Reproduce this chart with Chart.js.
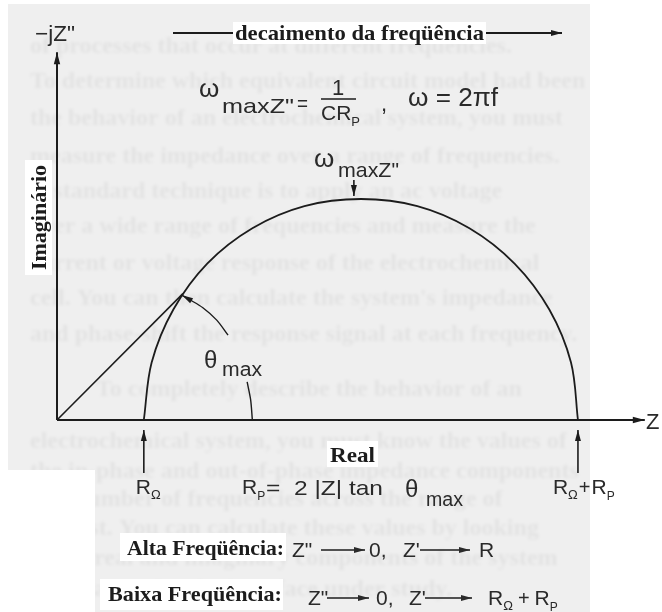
<!DOCTYPE html>
<html>
<head>
<meta charset="utf-8">
<script src="https://cdn.jsdelivr.net/npm/chart.js@4.4.1/dist/chart.umd.min.js"></script>
<style>
  html, body { margin: 0; padding: 0; background: #fff; }
  #wrap { width: 662px; height: 612px; }
</style>
</head>
<body>
<div id="wrap"><canvas id="nyquist" width="662" height="612"></canvas></div>
<script>
// circuit values
var R_OHM = 1.0;
var R_P = 5.0;

// semicircle, Z' and -Z''
var arcReal = [1.00, 1.09, 1.34, 1.73, 2.25, 2.85, 3.50, 4.15, 4.75, 5.27, 5.67, 5.92, 6.00];
var arcImag = [0.00, 0.65, 1.25, 1.77, 2.17, 2.42, 2.50, 2.42, 2.17, 1.77, 1.25, 0.65, 0.00];

// |Z| vector up to the theta_max point
var zVecReal = [0, 1.45];
var zVecImag = [0, 1.43];

// theta_max marker, split around its label
var thetaLowReal = [2.25, 2.23, 2.19];
var thetaLowImag = [0.00, 0.23, 0.43];
var thetaHighReal = [1.97, 1.84, 1.68, 1.53, 1.44];
var thetaHighImag = [0.96, 1.13, 1.27, 1.36, 1.41];

// axes
var axisRealEnd = 6.77;
var axisImagEnd = 4.16;

var INK = '#1c1c1c';
var SERIF = '"Liberation Serif", "Times New Roman", serif';
var SANS = '"Liberation Sans", Arial, sans-serif';

var ghostLines = [
    [45, 'of processes that occur at different frequencies.'],
    [80, 'To determine which equivalent circuit model had been'],
    [117, 'the behavior of an electrochemical system, you must'],
    [155, 'measure the impedance over a range of frequencies.'],
    [190, 'A standard technique is to apply an ac voltage'],
    [225, 'over a wide range of frequencies and measure the'],
    [262, 'current or voltage response of the electrochemical'],
    [297, 'cell. You can then calculate the system\'s impedance'],
    [333, 'and phase-shift the response signal at each frequency.'],
    [388, '           To completely describe the behavior of an'],
    [440, 'electrochemical system, you must know the values of'],
    [470, 'the in-phase and out-of-phase impedance components'],
    [498, 'at a number of frequencies across the range of'],
    [527, 'interest. You can calculate these values by looking'],
    [557, 'at the real and imaginary components of the system'],
    [588, 'impedance, for the interface under study.']
];

function pts(xs, ys) {
    return xs.map(function (x, i) { return { x: x, y: ys[i] }; });
}

function arrowHead(ctx, x0, y0, x1, y1, len, half) {
    var a = Math.atan2(y1 - y0, x1 - x0);
    var c = Math.cos(a), s = Math.sin(a);
    ctx.beginPath();
    ctx.moveTo(x1, y1);
    ctx.lineTo(x1 - len * c + half * s, y1 - len * s - half * c);
    ctx.lineTo(x1 - len * c - half * s, y1 - len * s + half * c);
    ctx.closePath();
    ctx.fill();
}

function arrow(ctx, x0, y0, x1, y1) {
    ctx.beginPath();
    ctx.moveTo(x0, y0);
    ctx.lineTo(x1, y1);
    ctx.stroke();
    arrowHead(ctx, x0, y0, x1, y1, 11, 3);
}

// draw text squeezed or stretched to a given width
function fitText(ctx, txt, x, y, w, font) {
    ctx.font = font;
    var m = ctx.measureText(txt).width;
    ctx.save();
    ctx.translate(x, y);
    ctx.scale(w / m, 1);
    ctx.fillText(txt, 0, 0);
    ctx.restore();
}

function put(ctx, txt, x, y, size) {
    ctx.font = size + 'px ' + SANS;
    ctx.fillText(txt, x, y);
    return x + ctx.measureText(txt).width;
}

var paperPlugin = {
    id: 'paper',
    beforeDraw: function (chart) {
        var ctx = chart.ctx;
        ctx.save();
        ctx.fillStyle = '#fff';
        ctx.fillRect(0, 0, chart.width, chart.height);
        // scanned page behind the figure
        ctx.beginPath();
        ctx.moveTo(8, 4);
        ctx.lineTo(590, 4);
        ctx.lineTo(590, 612);
        ctx.lineTo(95, 612);
        ctx.lineTo(95, 470);
        ctx.lineTo(8, 470);
        ctx.closePath();
        ctx.fillStyle = '#efefef';
        ctx.fill();
        ctx.clip();
        ctx.filter = 'blur(1.4px)';
        ctx.fillStyle = 'rgba(0,0,0,0.05)';
        ctx.font = 'bold 24px ' + SERIF;
        ghostLines.forEach(function (g) {
            ctx.fillText(g[1], 30, g[0] + 8);
        });
        ctx.restore();

        // white patches under the bold labels
        ctx.fillStyle = '#fff';
        ctx.fillRect(233, 22, 253, 22);
        ctx.fillRect(25, 160, 27, 115);
        ctx.fillRect(327, 441, 51, 26);
        ctx.fillRect(120, 533, 166, 28);
        ctx.fillRect(100, 579, 183, 31);
    },
    afterDatasetsDraw: function (chart) {
        var ctx = chart.ctx;
        var xs = chart.scales.x, ys = chart.scales.y;
        var x0 = xs.getPixelForValue(0), y0 = ys.getPixelForValue(0);
        ctx.save();
        ctx.fillStyle = INK;
        ctx.strokeStyle = INK;
        ctx.lineWidth = 1.6;

        // axis arrow tips
        arrowHead(ctx, x0, y0, x0, ys.getPixelForValue(axisImagEnd), 12, 3.2);
        arrowHead(ctx, x0, y0, xs.getPixelForValue(axisRealEnd), y0, 12, 3.2);

        // theta marker tip
        var n = thetaHighReal.length;
        arrowHead(ctx,
            xs.getPixelForValue(thetaHighReal[n - 2]), ys.getPixelForValue(thetaHighImag[n - 2]),
            xs.getPixelForValue(thetaHighReal[n - 1]), ys.getPixelForValue(thetaHighImag[n - 1]), 11, 3);

        // pointers to the two intercepts
        [R_OHM, R_OHM + R_P].forEach(function (v) {
            var px = xs.getPixelForValue(v);
            arrow(ctx, px, y0 + 53, px, y0 + 10);
        });

        // pointer to the top of the arc
        var topX = xs.getPixelForValue(R_OHM + R_P / 2) - 7;
        var topY = ys.getPixelForValue(R_P / 2);
        arrow(ctx, topX, topY - 19, topX, topY - 3);

        // frequency direction banner
        ctx.lineWidth = 1.8;
        ctx.beginPath();
        ctx.moveTo(173, 33);
        ctx.lineTo(233, 33);
        ctx.stroke();
        arrow(ctx, 486, 33, 562, 33);
        fitText(ctx, 'decaimento da freqüência', 235, 40, 249, 'bold 21px ' + SERIF);

        // axis names
        ctx.fillStyle = '#2a2a2a';
        fitText(ctx, '−jZ"', 35, 41, 40, '22px ' + SANS);
        put(ctx, 'Z', 646, 429, 22);
        ctx.fillStyle = INK;
        fitText(ctx, 'Real', 330, 462, 45, 'bold 21px ' + SERIF);
        ctx.save();
        ctx.translate(46, 270);
        ctx.rotate(-Math.PI / 2);
        fitText(ctx, 'Imaginário', 0, 0, 105, 'bold 21px ' + SERIF);
        ctx.restore();

        // formula line
        ctx.fillStyle = '#2a2a2a';
        put(ctx, 'ω', 199, 97, 26);
        fitText(ctx, 'maxZ"', 222, 113, 72, '21px ' + SANS);
        fitText(ctx, '=', 297, 111, 11, '22px ' + SANS);
        ctx.textAlign = 'center';
        put(ctx, '1', 338, 95, 22);
        ctx.textAlign = 'left';
        ctx.lineWidth = 1.5;
        ctx.beginPath();
        ctx.moveTo(321, 99);
        ctx.lineTo(356, 99);
        ctx.stroke();
        var e = put(ctx, 'CR', 321, 120, 21);
        put(ctx, 'P', e, 126, 13);
        put(ctx, ',', 381, 111, 22);
        fitText(ctx, 'ω = 2πf', 408, 106, 90, '26px ' + SANS);

        // label at the top of the arc
        put(ctx, 'ω', 314, 167, 26);
        fitText(ctx, 'maxZ"', 338, 177, 61, '21px ' + SANS);

        // theta label
        put(ctx, 'θ', 204, 368, 24);
        fitText(ctx, 'max', 222, 376, 40, '20px ' + SANS);

        // intercept labels
        var xa = xs.getPixelForValue(R_OHM);
        e = put(ctx, 'R', xa - 8, 494, 21);
        put(ctx, 'Ω', e, 499, 13);
        var xb = xs.getPixelForValue(R_OHM + R_P);
        e = put(ctx, 'R', xb - 25, 494, 21);
        e = put(ctx, 'Ω', e, 499, 13);
        e = put(ctx, '+', e + 1, 494, 20);
        e = put(ctx, 'R', e + 1, 494, 21);
        put(ctx, 'P', e, 500, 12);

        // R_P relation
        e = put(ctx, 'R', 242, 494, 21);
        put(ctx, 'P', e, 500, 12);
        fitText(ctx, '=  2 |Z| tan', 266, 495, 117, '21px ' + SANS);
        put(ctx, 'θ', 405, 497, 24);
        fitText(ctx, 'max', 426, 506, 37, '20px ' + SANS);

        // limits
        ctx.fillStyle = INK;
        fitText(ctx, 'Alta Freqüência:', 127, 555, 157, 'bold 21px ' + SERIF);
        fitText(ctx, 'Baixa Freqüência:', 108, 601, 174, 'bold 21px ' + SERIF);
        ctx.fillStyle = '#2a2a2a';
        ctx.lineWidth = 1.4;
        put(ctx, 'Z"', 292, 557, 21);
        arrow(ctx, 321, 550, 365, 550);
        put(ctx, '0,', 369, 557, 21);
        put(ctx, "Z'", 403, 557, 21);
        arrow(ctx, 420, 550, 470, 550);
        put(ctx, 'R', 479, 557, 21);

        put(ctx, 'Z"', 308, 605, 21);
        arrow(ctx, 327, 598, 369, 598);
        put(ctx, '0,', 376, 605, 21);
        put(ctx, "Z'", 409, 605, 21);
        arrow(ctx, 425, 598, 472, 598);
        e = put(ctx, 'R', 488, 605, 21);
        e = put(ctx, 'Ω', e, 610, 13);
        e = put(ctx, '+', e + 5, 605, 20);
        e = put(ctx, 'R', e + 5, 605, 21);
        put(ctx, 'P', e, 611, 12);
        ctx.restore();
    }
};

function lineSet(data, width, tension) {
    return {
        data: data,
        showLine: true,
        borderColor: INK,
        borderWidth: width,
        pointRadius: 0,
        tension: tension,
        fill: false
    };
}

var chart = new Chart(document.getElementById('nyquist'), {
    type: 'scatter',
    data: {
        datasets: [
            lineSet(pts([0, 0], [0, axisImagEnd]), 2, 0),
            lineSet(pts([0, axisRealEnd], [0, 0]), 2, 0),
            lineSet(pts(arcReal, arcImag), 1.8, 0.34),
            lineSet(pts(zVecReal, zVecImag), 1.6, 0),
            lineSet(pts(thetaLowReal, thetaLowImag), 1.4, 0.3),
            lineSet(pts(thetaHighReal, thetaHighImag), 1.4, 0.3)
        ]
    },
    options: {
        responsive: false,
        animation: false,
        devicePixelRatio: 1,
        layout: { padding: 0 },
        plugins: { legend: { display: false }, tooltip: { enabled: false } },
        scales: {
            x: { type: 'linear', min: -0.6565, max: 6.968, display: false },
            y: { type: 'linear', min: -2.172, max: 4.751, display: false }
        }
    },
    plugins: [paperPlugin]
});
</script>
</body>
</html>
